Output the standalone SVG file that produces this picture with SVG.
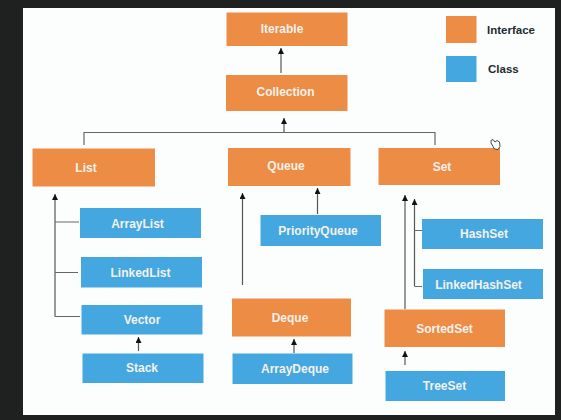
<svg xmlns="http://www.w3.org/2000/svg" width="561" height="420" viewBox="0 0 561 420">
<style>
.i{fill:#ec8c45}
.c{fill:#44a7e0}
text{font-family:"Liberation Sans",Arial,sans-serif;font-weight:700;font-size:12px;text-anchor:middle;fill:#f4f1ec}
.l{fill:#1f2a30;text-anchor:start;font-size:11.500px}
.g{fill:none;stroke:#666;stroke-width:1.200}
.a{fill:none;stroke:#555;stroke-width:1.200;marker-end:url(#h)}
</style>
<defs>
<marker id="h" markerUnits="userSpaceOnUse" markerWidth="7" markerHeight="7" refX="6" refY="3" orient="auto"><path d="M0 0L6 3L0 6Z" fill="#111"/></marker>
</defs>
<rect width="561" height="420" fill="#1e2120"/>
<rect x="23" y="8" width="532" height="407" fill="#fcfefd"/>
<g id="connectors">
<path class="a" d="M281 73V48"/>
<path class="g" d="M84 145V132.500H435V145"/>
<path class="a" d="M284 132V118"/>
<path class="a" d="M55 316.500V194"/>
<path class="g" d="M79 222H55M78 272.500H55M80 316.500H55"/>
<path class="a" d="M242.500 285V193"/>
<path class="a" d="M317.500 214V188"/>
<path class="a" d="M405 309V195"/>
<path class="a" d="M414.500 286V199"/>
<path class="g" d="M422 230.500H414.500M422 286.500H414.500"/>
<path class="a" d="M405 365V351"/>
<path class="a" d="M138.500 351V337"/>
<path class="a" d="M294 353V339"/>
</g>
<g id="iterable"><rect class="i" x="226.500" y="12.500" width="121" height="33.500"/><text x="282" y="33">Iterable</text></g>
<g id="collection"><rect class="i" x="226" y="75" width="121.500" height="36"/><text x="285.500" y="96">Collection</text></g>
<g id="list"><rect class="i" x="32.500" y="148.500" width="122.500" height="38"/><text x="86" y="172">List</text></g>
<g id="queue"><rect class="i" x="228" y="148" width="122.500" height="38"/><text x="286" y="169.500">Queue</text></g>
<g id="set"><rect class="i" x="378.500" y="148" width="121.500" height="37"/><text x="442" y="171">Set</text></g>
<g id="arraylist"><rect class="c" x="80" y="208" width="121" height="30"/><text x="137.500" y="227.500">ArrayList</text></g>
<g id="linkedlist"><rect class="c" x="81" y="257" width="121" height="30.500"/><text x="140.500" y="276.500">LinkedList</text></g>
<g id="vector"><rect class="c" x="81.500" y="305" width="121" height="29.500"/><text x="142" y="323.500">Vector</text></g>
<g id="stack"><rect class="c" x="82.500" y="353.500" width="121" height="29.500"/><text x="142" y="372">Stack</text></g>
<g id="priorityqueue"><rect class="c" x="260.500" y="215" width="120.500" height="31"/><text x="318" y="235">PriorityQueue</text></g>
<g id="deque"><rect class="i" x="232" y="298.500" width="119" height="38"/><text x="290" y="321.500">Deque</text></g>
<g id="arraydeque"><rect class="c" x="232.500" y="353.500" width="120" height="30.500"/><text x="295" y="373">ArrayDeque</text></g>
<g id="hashset"><rect class="c" x="422" y="219" width="121" height="30"/><text x="484" y="238">HashSet</text></g>
<g id="linkedhashset"><rect class="c" x="423" y="269" width="120" height="30"/><text x="478.500" y="289">LinkedHashSet</text></g>
<g id="sortedset"><rect class="i" x="384.500" y="309.500" width="120.500" height="37.500"/><text x="444.500" y="333">SortedSet</text></g>
<g id="treeset"><rect class="c" x="385.500" y="371" width="119.500" height="30"/><text x="444.500" y="390">TreeSet</text></g>
<g id="legend-interface"><rect class="i" x="446" y="16" width="30.500" height="27"/><text class="l" x="487" y="34">Interface</text></g>
<g id="legend-class"><rect class="c" x="446" y="56" width="30.500" height="26"/><text class="l" x="488" y="73">Class</text></g>
<path id="cursor" d="M491 140.500L493 139.500L495 142L497 140.500L499.500 142L500 146.500L498 149.500L494.500 149L491 143Z" fill="#fcfefd" stroke="#333" stroke-width=".9"/>
</svg>
